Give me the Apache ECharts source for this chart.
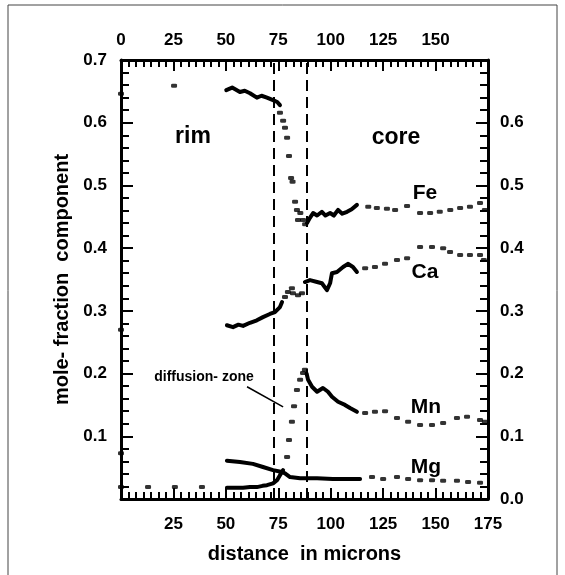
<!DOCTYPE html>
<html>
<head>
<meta charset="utf-8">
<script src="https://cdn.jsdelivr.net/npm/echarts@6/dist/echarts.min.js"></script>
<style>
  html, body { margin: 0; padding: 0; background: #fff; }
  #chart { width: 565px; height: 575px; }
</style>
</head>
<body>
<div id="chart"></div>
<script>
// x ticks (microns) and y ticks (mole fraction)
var xTicks = [0, 25, 50, 75, 100, 125, 150, 175];
var yTicks = [0.0, 0.1, 0.2, 0.3, 0.4, 0.5, 0.6, 0.7];

// Fe: continuous traverse segments and isolated analyses
var feRim = [[50.2,0.652],[53,0.656],[56.7,0.649],[59,0.651],[61.5,0.647],[64.8,0.640],[67,0.643],[69.6,0.640],[72.5,0.636],[74.5,0.633],[75.8,0.628]];
var feCore = [[88.7,0.440],[90,0.448],[91.6,0.456],[93.5,0.452],[95.8,0.458],[97.5,0.452],[99.7,0.456],[101.5,0.452],[103.5,0.461],[105.5,0.455],[107.8,0.458],[110,0.462],[112.5,0.469]];
var feDots = [[0,0.646],[25.3,0.659],[75.8,0.616],[77.3,0.603],[78.2,0.592],[79.2,0.576],[80.1,0.547],[81.1,0.512],[81.8,0.506],[83,0.474],[83.9,0.461],[84.4,0.445],[85.5,0.456],[86.8,0.445],[87.8,0.438],
  [117.9,0.466],[122,0.464],[126.8,0.463],[130.7,0.461],[136.4,0.467],[142.6,0.456],[147.4,0.456],[152,0.458],[157,0.461],[161.7,0.464],[166.4,0.466],[171.2,0.472],[173.5,0.461]];

// Ca
var caRim = [[50.5,0.277],[53.4,0.274],[56,0.278],[58.2,0.276],[61.5,0.281],[64.8,0.285],[67.7,0.290],[71,0.295],[73.4,0.298],[75.8,0.306],[76.8,0.314]];
var caCore = [[87.7,0.346],[90.1,0.349],[93.5,0.346],[95.8,0.344],[98.2,0.333],[99.7,0.344],[100.6,0.360],[103,0.362],[105.9,0.370],[108.2,0.375],[110.6,0.370],[112.5,0.362]];
var caDots = [[0,0.270],[78.2,0.322],[79.6,0.330],[81.5,0.336],[82,0.328],[84.4,0.325],[86.3,0.328],
  [116.4,0.368],[121.1,0.370],[125.9,0.375],[131.6,0.381],[136.4,0.384],[142.6,0.402],[148.3,0.402],[153.6,0.400],[156.9,0.394],[161.7,0.389],[166.4,0.389],[171.2,0.389],[173,0.381]];

// Mn
var mnRim = [[50.5,0.018],[54,0.018],[58.2,0.018],[61.5,0.019],[64.8,0.019],[67.5,0.021],[69.6,0.022],[72.5,0.025],[74.4,0.030],[75.8,0.038],[77.3,0.046]];
var mnCore = [[88.5,0.200],[89.2,0.190],[91.1,0.179],[93.5,0.171],[96.3,0.177],[98.7,0.171],[100.6,0.163],[103.5,0.155],[106.8,0.150],[109.2,0.145],[112.5,0.139]];
var mnDots = [[0,0.019],[12.9,0.019],[25.7,0.019],[38.6,0.019],[79.2,0.067],[80.1,0.094],[81.5,0.123],[82.5,0.148],[83.9,0.174],[85.4,0.190],[86.8,0.201],[87.7,0.206],
  [116.4,0.137],[121.1,0.139],[125.9,0.140],[131.6,0.129],[136.9,0.123],[142.6,0.118],[148.3,0.118],[153.6,0.121],[160.2,0.129],[165,0.131],[171.2,0.126],[173.5,0.123]];

// Mg
var mgTrace = [[50.5,0.061],[56.7,0.059],[62.9,0.056],[67.7,0.051],[72.5,0.046],[76.8,0.043],[78.2,0.041],[80.6,0.035],[85.4,0.033],[93.5,0.033],[101,0.032],[109.2,0.032],[114,0.032]];
var mgDots = [[0,0.073],[119.7,0.035],[125,0.032],[131.6,0.035],[136.9,0.032],[142.6,0.030],[148.3,0.030],[153.6,0.029],[160.2,0.029],[165.5,0.027],[171.2,0.026]];

// boundaries of the diffusion zone and the leader line of its label
var zoneBounds = [73, 88.5];
var leader = [[60.1, 0.179], [77.3, 0.147]];

var chart = echarts.init(document.getElementById('chart'));
var ink = '#000';
var bold = 'Liberation Sans';

function trace(data) {
  return {
    type: 'line', data: data, xAxisIndex: 0, yAxisIndex: 0,
    symbol: 'none', silent: true, animation: false,
    lineStyle: { color: ink, width: 4, cap: 'round', join: 'round' }
  };
}
function dots(data) {
  return {
    type: 'scatter', data: data, xAxisIndex: 0, yAxisIndex: 0,
    symbol: 'roundRect', symbolSize: [6, 4], silent: true, animation: false,
    itemStyle: { color: ink }
  };
}

var xCommon = {
  type: 'value', min: xTicks[0], max: xTicks[xTicks.length - 1], interval: 25,
  axisLine: { show: true, onZero: false, lineStyle: { color: ink, width: 3 } },
  axisTick: { show: true, inside: true, length: 11, lineStyle: { color: ink, width: 2 } },
  minorTick: { show: true, splitNumber: 7, length: 7, lineStyle: { color: ink, width: 2 } },
  splitLine: { show: false }
};
var yCommon = {
  type: 'value', min: yTicks[0], max: yTicks[yTicks.length - 1], interval: 0.1,
  axisLine: { show: true, onZero: false, lineStyle: { color: ink, width: 3 } },
  axisTick: { show: true, inside: true, length: 12, lineStyle: { color: ink, width: 2 } },
  minorTick: { show: true, splitNumber: 5, length: 8, lineStyle: { color: ink, width: 2 } },
  splitLine: { show: false }
};
var tickFont = { color: ink, fontFamily: bold, fontWeight: 'bold', fontSize: 17 };

var option = {
  backgroundColor: '#fff',
  animation: false,
  grid: { left: 121, right: 77, top: 60, bottom: 76 },
  xAxis: [
    Object.assign({}, xCommon, {
      position: 'bottom',
      name: 'distance  in microns', nameLocation: 'middle', nameGap: 45,
      nameTextStyle: { color: ink, fontFamily: bold, fontWeight: 'bold', fontSize: 20 },
      axisLabel: Object.assign({ margin: 17, formatter: function (v) { return v === 0 ? '' : String(v); } }, tickFont)
    }),
    Object.assign({}, xCommon, {
      position: 'top',
      axisLabel: Object.assign({ margin: 11, formatter: function (v) { return v === 175 ? '' : String(v); } }, tickFont)
    })
  ],
  yAxis: [
    Object.assign({}, yCommon, {
      position: 'left',
      name: 'mole- fraction  component', nameLocation: 'middle', nameGap: 49, nameRotate: 90,
      nameTextStyle: { color: ink, fontFamily: bold, fontWeight: 'bold', fontSize: 20 },
      axisLabel: Object.assign({ margin: 14, formatter: function (v) { return v === 0 ? '' : v.toFixed(1); } }, tickFont)
    }),
    Object.assign({}, yCommon, {
      position: 'right',
      axisLabel: Object.assign({ margin: 12, formatter: function (v) { return v >= 0.7 ? '' : v.toFixed(1); } }, tickFont)
    })
  ],
  graphic: [
    { type: 'rect', shape: { x: 8, y: 5, width: 549, height: 620 }, style: { fill: 'none', stroke: '#444', lineWidth: 1 }, silent: true },
    { type: 'text', x: 193, y: 137, style: { text: 'rim', fill: ink, font: 'bold 23px "Liberation Sans"', align: 'center', verticalAlign: 'middle' } },
    { type: 'text', x: 396, y: 138, style: { text: 'core', fill: ink, font: 'bold 23px "Liberation Sans"', align: 'center', verticalAlign: 'middle' } },
    { type: 'text', x: 425, y: 193, style: { text: 'Fe', fill: ink, font: 'bold 21px "Liberation Sans"', align: 'center', verticalAlign: 'middle' } },
    { type: 'text', x: 425, y: 272, style: { text: 'Ca', fill: ink, font: 'bold 21px "Liberation Sans"', align: 'center', verticalAlign: 'middle' } },
    { type: 'text', x: 426, y: 407, style: { text: 'Mn', fill: ink, font: 'bold 21px "Liberation Sans"', align: 'center', verticalAlign: 'middle' } },
    { type: 'text', x: 426, y: 467, style: { text: 'Mg', fill: ink, font: 'bold 21px "Liberation Sans"', align: 'center', verticalAlign: 'middle' } },
    { type: 'text', x: 204, y: 377, style: { text: 'diffusion- zone', fill: ink, font: 'bold 14px "Liberation Sans"', align: 'center', verticalAlign: 'middle' } }
  ],
  series: [
    trace(feRim), trace(feCore), dots(feDots),
    trace(caRim), trace(caCore), dots(caDots),
    trace(mnRim), trace(mnCore), dots(mnDots),
    trace(mgTrace), dots(mgDots),
    {
      type: 'line', data: [], xAxisIndex: 0, yAxisIndex: 0, silent: true,
      markLine: {
        symbol: 'none', silent: true, animation: false,
        label: { show: false },
        lineStyle: { color: ink, width: 2, type: [11, 6] },
        data: zoneBounds.map(function (x) { return { xAxis: x }; })
      }
    },
    {
      type: 'line', data: leader, xAxisIndex: 0, yAxisIndex: 0, symbol: 'none', silent: true,
      lineStyle: { color: ink, width: 1.5 }
    }
  ]
};

chart.setOption(option);
</script>
</body>
</html>
